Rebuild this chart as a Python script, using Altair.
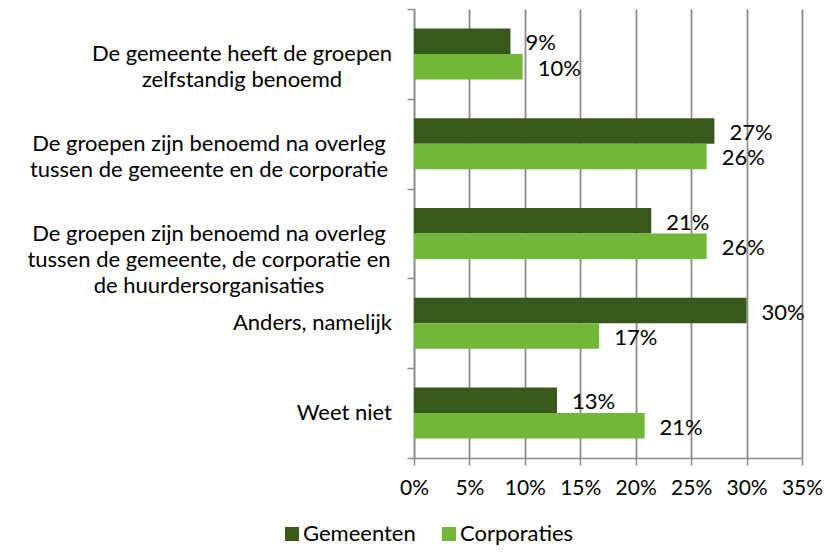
import altair as alt
import pandas as pd

FONT = "Lato"
FS = 22

categories = [
    "De gemeente heeft de groepen\nzelfstandig benoemd",
    "De groepen zijn benoemd na overleg\ntussen de gemeente en de corporatie",
    "De groepen zijn benoemd na overleg\ntussen de gemeente, de corporatie en\nde huurdersorganisaties",
    "Anders, namelijk",
    "Weet niet",
]
series = ["Gemeenten", "Corporaties"]
gemeenten = [8.7, 27.1, 21.4, 30.0, 12.9]
corporaties = [9.8, 26.4, 26.4, 16.7, 20.8]
colors = ["#38591c", "#72b73a"]
x_ticks = [0, 0.05, 0.10, 0.15, 0.20, 0.25, 0.30, 0.35]

rows = []
for c, g, k in zip(categories, gemeenten, corporaties):
    rows.append({"cat": c, "series": "Gemeenten", "value": g / 100})
    rows.append({"cat": c, "series": "Corporaties", "value": k / 100})
df = pd.DataFrame(rows)
cat_df = pd.DataFrame({"cat": categories})

GRAY = "#8c8c8c"

y_enc = alt.Y(
    "cat:N",
    sort=categories,
    scale=alt.Scale(paddingInner=0, paddingOuter=0),
    axis=alt.Axis(
        title=None,
        tickBand="extent",
        labels=False,
        tickSize=7,
        tickColor=GRAY,
        tickWidth=1.5,
        domainColor=GRAY,
        domainWidth=1.5,
        grid=False,
    ),
)

base = alt.Chart(df).encode(
    y=y_enc,
    yOffset=alt.YOffset(
        "series:N", sort=series, scale=alt.Scale(paddingInner=0, paddingOuter=0.76)
    ),
)

bars = base.mark_bar().encode(
    x=alt.X(
        "value:Q",
        scale=alt.Scale(domain=[0, 0.35], nice=False),
        axis=alt.Axis(
            title=None,
            values=x_ticks,
            format=".0%",
            labelOverlap=False,
            labelFlush=False,
            labelFont=FONT,
            labelFontSize=21,
            labelColor="black",
            labelPadding=12,
            tickSize=7,
            tickColor=GRAY,
            tickWidth=1.5,
            domainColor=GRAY,
            domainWidth=1.5,
            gridColor=GRAY,
            gridWidth=1.8,
        ),
    ),
    color=alt.Color(
        "series:N",
        sort=series,
        scale=alt.Scale(domain=series, range=colors),
        legend=alt.Legend(
            title=None,
            orient="none",
            legendX=-133,
            legendY=514,
            padding=0,
            direction="horizontal",
            symbolType="square",
            symbolSize=196,
            symbolStrokeWidth=0,
            symbolOpacity=1,
            labelFont=FONT,
            labelFontSize=FS,
            labelColor="black",
            labelOffset=0,
            columnPadding=22,
        ),
    ),
)

texts = base.mark_text(
    align="left", dx=15, dy=2, fontSize=FS, font=FONT, color="black"
).encode(
    x=alt.X("value:Q"),
    text=alt.Text("value:Q", format=".0%"),
)

# category labels: multi-line blocks are centred line by line, single lines right-aligned
cat_multi = (
    alt.Chart(cat_df)
    .transform_filter("indexof(datum.cat, '\\n') >= 0")
    .transform_calculate(
        cx="indexof(datum.cat, 'zelfstandig') >= 0 ? -172 : -205"
    )
    .mark_text(
        align="center", baseline="middle", lineBreak="\n", lineHeight=26,
        fontSize=FS, font=FONT, color="black",
    )
    .encode(y=alt.Y("cat:N", sort=categories), x=alt.X("cx:Q", scale=None), text="cat:N")
)
cat_single = (
    alt.Chart(cat_df)
    .transform_filter("indexof(datum.cat, '\\n') < 0")
    .mark_text(
        align="right", baseline="middle", fontSize=FS, font=FONT, color="black",
    )
    .encode(y=alt.Y("cat:N", sort=categories), x=alt.value(-22), text="cat:N")
)

chart = (
    alt.layer(bars, texts, cat_multi, cat_single)
    .properties(
        width=388,
        height=449,
        autosize=alt.AutoSizeParams(type="none"),
        padding={"left": 406, "top": 1, "right": 24, "bottom": 87},
    )
    .configure_view(stroke=None)
)

chart.save("out.html", embed_options={"renderer": "svg", "actions": False})
